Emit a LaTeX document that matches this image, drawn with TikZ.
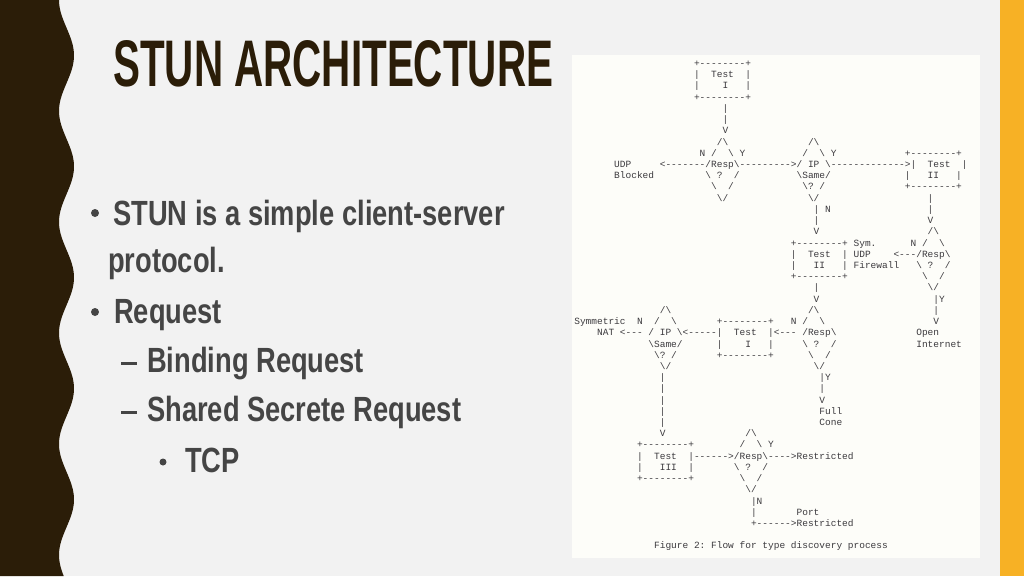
\documentclass[tikz,border=0pt]{standalone}
\usepackage{fontspec}
\setmainfont{Liberation Sans}
\setmonofont{Liberation Mono}
\usepackage{xcolor}
\usepackage{graphicx}
\usetikzlibrary{positioning}

\definecolor{darkbrown}{HTML}{2B1D08}
\definecolor{slidebg}{HTML}{F2F2F2}
\definecolor{sideyellow}{HTML}{F7B125}
\definecolor{panelbg}{HTML}{FDFDF9}
\definecolor{bodygray}{HTML}{454545}
\definecolor{asciigray}{HTML}{3C3A3E}

\newcommand\bs{\textbackslash}
% one piece of the flow figure at column / row
\newcommand\asc[3]{\node[ascii] at ({557+5.7*#1},{64+11.22*#2}) {#3};}

\begin{document}
\begin{tikzpicture}[x=1pt,y=-1pt,
    ascii/.style={anchor=west, inner sep=0pt, text height=7pt, text depth=2pt,
      font=\ttfamily\fontsize{9.5}{9.5}\selectfont, text=asciigray},
    bodytext/.style={anchor=base west, inner sep=0pt, text=bodygray,
      font=\bfseries\fontsize{35}{35}\selectfont}]
    \useasboundingbox (0,0) rectangle (1024,576);

    % Slide background
    \fill[slidebg] (0,0) rectangle (1024,576);
    \fill[sideyellow] (1000,0) rectangle (1024,576);
    \fill[darkbrown] (0,0) -- plot[domain=0:576, samples=200] ({66.5-7.5*cos(3.2432*\x)},\x) -- (0,576) -- cycle;

    % Title
    \node[anchor=base west, inner sep=0pt, text=darkbrown] (title) at (113,86)
        {\resizebox{440pt}{46pt}{\bfseries STUN ARCHITECTURE}};

    % Bullet list
    \fill[bodygray] (95,213) circle (4);
    \node[bodytext] (b1) at (113,225) {\scalebox{0.78}[1]{STUN is a simple client-server}};
    \node[bodytext] (b1b) at (108,272) {\scalebox{0.78}[1]{protocol.}};
    \fill[bodygray] (95,312) circle (4);
    \node[bodytext] (b2) at (114,323) {\scalebox{0.78}[1]{Request}};
    \fill[bodygray] (121,362) rectangle (137,365);
    \node[bodytext] (b3) at (147,372) {\scalebox{0.78}[1]{Binding Request}};
    \fill[bodygray] (121,411) rectangle (137,414);
    \node[bodytext] (b4) at (147,421) {\scalebox{0.78}[1]{Shared Secrete Request}};
    \fill[bodygray] (163,462) circle (3.5);
    \node[bodytext] (b5) at (185,472) {\scalebox{0.78}[1]{TCP}};

    % Flow figure
    \fill[panelbg] (572,55) rectangle (980,558);
    \asc{24}{0}{+--------+}
    \asc{24}{1}{|~~Test~~|}
    \asc{24}{2}{|~~~~I~~~|}
    \asc{24}{3}{+--------+}
    \asc{29}{4}{|}
    \asc{29}{5}{|}
    \asc{29}{6}{V}
    \asc{28}{7}{/\bs}
    \asc{44}{7}{/\bs}
    \asc{25}{8}{N~/~~\bs~Y}
    \asc{43}{8}{/~~\bs~Y}
    \asc{61}{8}{+--------+}
    \asc{10}{9}{UDP}
    \asc{18}{9}{<-------/Resp\bs--------->/~IP~\bs------------->|~~Test~~|}
    \asc{10}{10}{Blocked}
    \asc{26}{10}{\bs~?~~/}
    \asc{42}{10}{\bs{}Same/}
    \asc{61}{10}{|~~~II~~~|}
    \asc{27}{11}{\bs~~/}
    \asc{43}{11}{\bs?~/}
    \asc{61}{11}{+--------+}
    \asc{28}{12}{\bs/}
    \asc{44}{12}{\bs/}
    \asc{65}{12}{|}
    \asc{45}{13}{|~N}
    \asc{65}{13}{|}
    \asc{45}{14}{|}
    \asc{65}{14}{V}
    \asc{45}{15}{V}
    \asc{65}{15}{/\bs}
    \asc{41}{16}{+--------+}
    \asc{52}{16}{Sym.}
    \asc{62}{16}{N~/~~\bs}
    \asc{41}{17}{|~~Test~~|}
    \asc{52}{17}{UDP}
    \asc{59}{17}{<---/Resp\bs}
    \asc{41}{18}{|~~~II~~~|}
    \asc{52}{18}{Firewall}
    \asc{63}{18}{\bs~?~~/}
    \asc{41}{19}{+--------+}
    \asc{64}{19}{\bs~~/}
    \asc{45}{20}{|}
    \asc{65}{20}{\bs/}
    \asc{45}{21}{V}
    \asc{66}{21}{|Y}
    \asc{18}{22}{/\bs}
    \asc{44}{22}{/\bs}
    \asc{66}{22}{|}
    \asc{3}{23}{Symmetric}
    \asc{14}{23}{N}
    \asc{17}{23}{/~~\bs}
    \asc{28}{23}{+--------+}
    \asc{41}{23}{N}
    \asc{43}{23}{/~~\bs}
    \asc{66}{23}{V}
    \asc{7}{24}{NAT}
    \asc{11}{24}{<---~/~IP~\bs<-----|~~Test~~|<---~/Resp\bs}
    \asc{63}{24}{Open}
    \asc{16}{25}{\bs{}Same/}
    \asc{28}{25}{|~~~~I~~~|}
    \asc{43}{25}{\bs~?~~/}
    \asc{63}{25}{Internet}
    \asc{17}{26}{\bs?~/}
    \asc{28}{26}{+--------+}
    \asc{44}{26}{\bs~~/}
    \asc{18}{27}{\bs/}
    \asc{45}{27}{\bs/}
    \asc{18}{28}{|}
    \asc{46}{28}{|Y}
    \asc{18}{29}{|}
    \asc{46}{29}{|}
    \asc{18}{30}{|}
    \asc{46}{30}{V}
    \asc{18}{31}{|}
    \asc{46}{31}{Full}
    \asc{18}{32}{|}
    \asc{46}{32}{Cone}
    \asc{18}{33}{V}
    \asc{33}{33}{/\bs}
    \asc{14}{34}{+--------+}
    \asc{32}{34}{/~~\bs~Y}
    \asc{14}{35}{|~~Test~~|------>/Resp\bs---->Restricted}
    \asc{14}{36}{|~~~III~~|}
    \asc{31}{36}{\bs~?~~/}
    \asc{14}{37}{+--------+}
    \asc{32}{37}{\bs~~/}
    \asc{33}{38}{\bs/}
    \asc{34}{39}{|N}
    \asc{34}{40}{|}
    \asc{42}{40}{Port}
    \asc{34}{41}{+------>Restricted}
    \asc{17}{43}{Figure~2:~Flow~for~type~discovery~process}
\end{tikzpicture}
\end{document}
